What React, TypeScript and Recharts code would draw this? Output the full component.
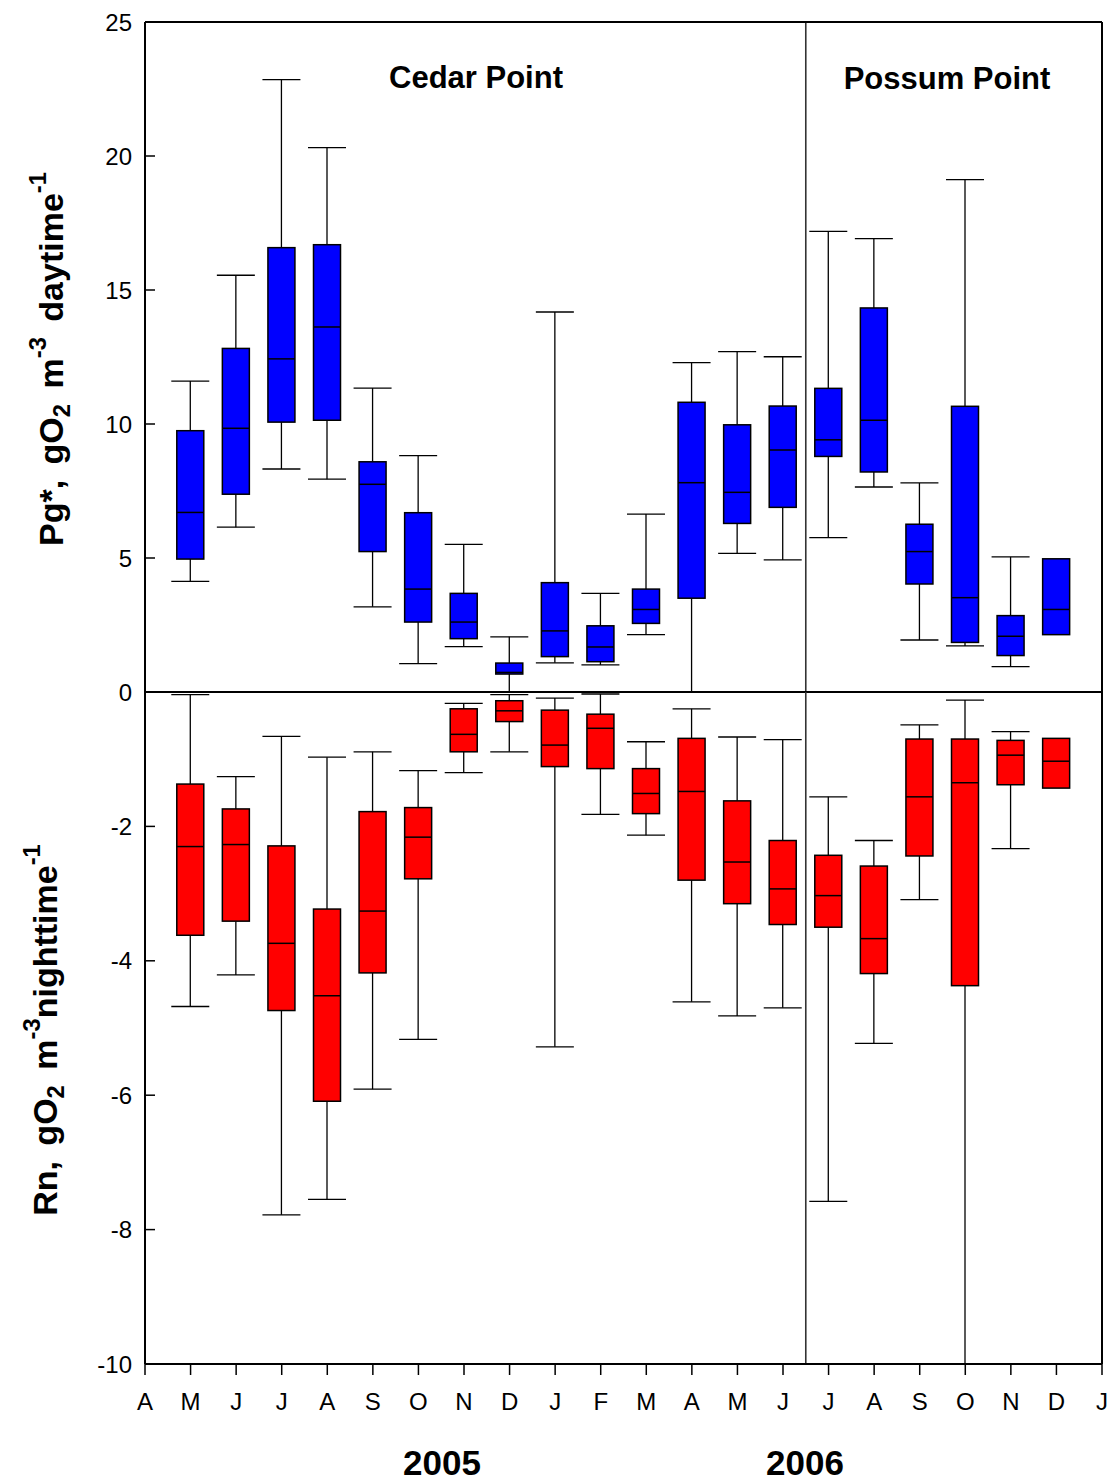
import { Bar, ComposedChart, ReferenceLine, XAxis, YAxis } from 'recharts';

// month ticks, Apr 2005 .. Jan 2007
const months = ['A', 'M', 'J', 'J', 'A', 'S', 'O', 'N', 'D', 'J', 'F', 'M', 'A', 'M', 'J', 'J', 'A', 'S', 'O', 'N', 'D', 'J'];
const monthTicks = months.map((_, i) => i);
// box positions: May 2005 .. Dec 2006
const boxPos = [1, 2, 3, 4, 5, 6, 7, 8, 9, 10, 11, 12, 13, 14, 15, 16, 17, 18, 19, 20];

// Pg* (daytime)
const pgHigh = [11.6, 15.55, 22.85, 20.31, 11.34, 8.82, 5.51, 2.06, 14.18, 3.68, 6.64, 12.29, 12.7, 12.51, 17.19, 16.92, 7.8, 19.12, 5.04, null];
const pgQ3 = [9.75, 12.82, 16.58, 16.69, 8.59, 6.69, 3.68, 1.08, 4.08, 2.47, 3.84, 10.81, 9.97, 10.67, 11.33, 14.33, 6.26, 10.66, 2.85, 4.97];
const pgMed = [6.7, 9.84, 12.43, 13.62, 7.75, 3.84, 2.61, 0.73, 2.28, 1.68, 3.08, 7.81, 7.45, 9.03, 9.41, 10.14, 5.24, 3.52, 2.08, 3.08];
const pgQ1 = [4.96, 7.38, 10.07, 10.14, 5.24, 2.61, 1.99, 0.67, 1.32, 1.13, 2.56, 3.5, 6.29, 6.89, 8.79, 8.21, 4.03, 1.85, 1.36, 2.14];
const pgLow = [4.13, 6.15, 8.32, 7.94, 3.18, 1.06, 1.69, 0, 1.09, 1.01, 2.14, 0, 5.17, 4.93, 5.76, 7.65, 1.94, 1.72, 0.95, null];

// Rn (nighttime)
const rnHigh = [-0.04, -1.26, -0.66, -0.97, -0.89, -1.17, -0.17, -0.04, -0.09, -0.03, -0.74, -0.25, -0.67, -0.71, -1.56, -2.21, -0.49, -0.12, -0.59, null];
const rnQ3 = [-1.37, -1.74, -2.29, -3.23, -1.78, -1.72, -0.25, -0.13, -0.27, -0.33, -1.14, -0.69, -1.62, -2.21, -2.43, -2.59, -0.7, -0.7, -0.72, -0.69];
const rnMed = [-2.3, -2.27, -3.74, -4.52, -3.26, -2.16, -0.63, -0.28, -0.79, -0.54, -1.51, -1.48, -2.53, -2.93, -3.03, -3.67, -1.56, -1.35, -0.94, -1.03];
const rnQ1 = [-3.62, -3.41, -4.74, -6.09, -4.18, -2.78, -0.89, -0.44, -1.11, -1.14, -1.81, -2.8, -3.15, -3.46, -3.5, -4.19, -2.44, -4.37, -1.38, -1.43];
const rnLow = [-4.68, -4.21, -7.78, -7.55, -5.91, -5.17, -1.2, -0.89, -5.28, -1.82, -2.13, -4.61, -4.82, -4.7, -7.58, -5.23, -3.09, -10, -2.33, null];

const pgTicks = [0, 5, 10, 15, 20, 25];
const rnTicks = [-10, -8, -6, -4, -2];

const pgData = boxPos.map((pos, i) => ({ pos, low: pgLow[i], q1: pgQ1[i], med: pgMed[i], q3: pgQ3[i], high: pgHigh[i] }));
const rnData = boxPos.map((pos, i) => ({ pos, low: rnLow[i], q1: rnQ1[i], med: rnMed[i], q3: rnQ3[i], high: rnHigh[i] }));

const FONT = '"Liberation Sans", Arial, Helvetica, sans-serif';
const BOX_W = 27;
const CAP_W = 38;

const BoxShape = (props: any) => {
  const { x, y, width, height, payload, fill } = props;
  const { low, q1, med, q3, high } = payload;
  const top = Math.min(y, y + height);
  const span = Math.abs(height);
  const ppu = span / (q3 - q1);
  const py = (v: number) => top + (q3 - v) * ppu;
  const cx = x + width / 2;
  const ln = { stroke: '#000', strokeWidth: 1.3 };
  return (
    <g>
      {high != null && (
        <g>
          <line x1={cx} x2={cx} y1={py(high)} y2={top} {...ln} />
          <line x1={cx - CAP_W / 2} x2={cx + CAP_W / 2} y1={py(high)} y2={py(high)} {...ln} />
        </g>
      )}
      {low != null && (
        <g>
          <line x1={cx} x2={cx} y1={top + span} y2={py(low)} {...ln} />
          <line x1={cx - CAP_W / 2} x2={cx + CAP_W / 2} y1={py(low)} y2={py(low)} {...ln} />
        </g>
      )}
      <rect x={cx - BOX_W / 2} y={top} width={BOX_W} height={span} fill={fill} stroke="#000" strokeWidth={1.5} />
      <line x1={cx - BOX_W / 2} x2={cx + BOX_W / 2} y1={py(med)} y2={py(med)} stroke="#000" strokeWidth={1.5} />
    </g>
  );
};

const axisLine = { stroke: '#000', strokeWidth: 2 };
const tickLine = { stroke: '#000', strokeWidth: 1.5 };
const tickFont = { fontSize: 24, fill: '#000', fontFamily: FONT };

const abs = (x: number, y: number, extra: any = {}) => ({
  position: 'absolute' as const,
  left: x,
  top: y,
  transform: 'translate(-50%, -50%)',
  whiteSpace: 'nowrap' as const,
  lineHeight: 1,
  fontFamily: FONT,
  fontWeight: 'bold' as const,
  color: '#000',
  ...extra,
});

const supStyle = { fontSize: '0.7em', lineHeight: 0, verticalAlign: '0.7em' };
const subStyle = { fontSize: '0.7em', lineHeight: 0, verticalAlign: '-0.3em' };
const titleStyle = { fontSize: 34, wordSpacing: 6, transform: 'translate(-50%, -50%) rotate(-90deg)' };

const App = () => {
  return (
    <div style={{ position: 'absolute', left: 0, top: 0, width: 1115, height: 1482, background: '#fff', fontFamily: FONT }}>
      <div style={{ position: 'absolute', left: 0, top: 0 }}>
        <ComposedChart width={1115} height={740} data={pgData} margin={{ top: 21, right: 12, bottom: 47, left: 144 }}>
          <XAxis type="number" dataKey="pos" domain={[0, 21]} ticks={monthTicks} interval={0} tick={false} tickSize={11} height={1} axisLine={axisLine} tickLine={tickLine} />
          <XAxis xAxisId="top" orientation="top" type="number" domain={[0, 21]} ticks={monthTicks} tick={false} tickLine={false} height={1} axisLine={axisLine} />
          <YAxis type="number" domain={[0, 25]} ticks={pgTicks} interval={0} width={1} tickSize={-10} tickMargin={23} tick={tickFont} axisLine={axisLine} tickLine={tickLine} />
          <YAxis yAxisId="right" orientation="right" type="number" domain={[0, 25]} ticks={pgTicks} width={1} tickSize={-10} tick={false} axisLine={axisLine} tickLine={tickLine} />
          <ReferenceLine x={14.5} stroke="#333" strokeWidth={1.6} />
          <Bar dataKey={(d: any) => [d.q1, d.q3]} fill="#0000ff" barSize={BOX_W} shape={BoxShape} isAnimationActive={false} />
        </ComposedChart>
      </div>
      <div style={{ position: 'absolute', left: 0, top: 0 }}>
        <ComposedChart width={1115} height={1482} data={rnData} margin={{ top: 692, right: 12, bottom: 78, left: 144 }}>
          <XAxis type="number" dataKey="pos" domain={[0, 21]} ticks={monthTicks} interval={0} tickFormatter={(v: number) => months[v]} tickSize={11} tickMargin={18} height={40} tick={tickFont} axisLine={axisLine} tickLine={tickLine} />
          <YAxis type="number" domain={[-10, 0]} ticks={rnTicks} interval={0} width={1} tickSize={-10} tickMargin={23} tick={tickFont} axisLine={axisLine} tickLine={tickLine} />
          <YAxis yAxisId="right" orientation="right" type="number" domain={[-10, 0]} ticks={rnTicks} width={1} tickSize={-10} tick={false} axisLine={axisLine} tickLine={tickLine} />
          <ReferenceLine x={14.5} stroke="#333" strokeWidth={1.6} />
          <Bar dataKey={(d: any) => [d.q1, d.q3]} fill="#ff0000" barSize={BOX_W} shape={BoxShape} isAnimationActive={false} />
        </ComposedChart>
      </div>

      <div style={abs(476, 77, { fontSize: 31 })}>Cedar Point</div>
      <div style={abs(947, 78, { fontSize: 31 })}>Possum Point</div>
      <div style={abs(442, 1462, { fontSize: 35 })}>2005</div>
      <div style={abs(805, 1462, { fontSize: 35 })}>2006</div>

      <div style={abs(51, 359, titleStyle)}>
        Pg*, gO<span style={subStyle}>2</span> m<span style={supStyle}>-3</span> daytime<span style={supStyle}>-1</span>
      </div>
      <div style={abs(45, 1030, titleStyle)}>
        Rn, gO<span style={subStyle}>2</span> m<span style={supStyle}>-3</span>nighttime<span style={supStyle}>-1</span>
      </div>
    </div>
  );
};

export default App;
